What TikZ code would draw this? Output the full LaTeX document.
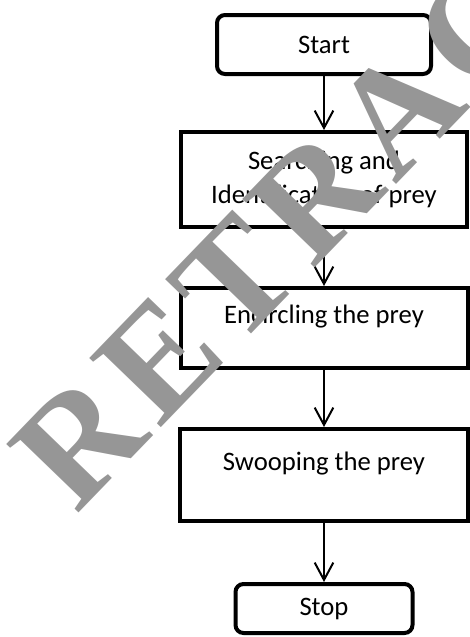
\documentclass[tikz,border=0pt]{standalone}
\usepackage{fontspec}
\setmainfont{Carlito}
\newfontfamily\wmfont[LetterSpace=6]{Liberation Serif}
\usepackage{tikz}
\usetikzlibrary{arrows.meta}
\definecolor{wmgray}{RGB}{150,150,150}
\tikzset{
  fc_node/.style = {align=center, inner sep=0pt, text centered,
    font=\fontsize{20}{26}\selectfont, draw=black, line width=3pt},
  fc_term/.style = {fc_node, rectangle, rounded corners=6pt},% start / stop
  fc_proc/.style = {fc_node, rectangle},% process step
  fc_proc_top/.style = {fc_proc, text height=14pt, text depth=21pt},% text sits high
  wmark/.style = {wmgray, inner sep=0pt,
    font=\wmfont\bfseries\fontsize{114}{114}\selectfont}% watermark
}

\begin{document}
\begin{tikzpicture}[x=0.75pt,y=-0.75pt,>={Straight Barb[length=13pt,width=14pt]},line width=1.5pt]
  	\useasboundingbox (0,0) rectangle (470,637);
  	\clip (0,0) rectangle (470,637);
  	\node [fc_term, minimum width=214*0.75pt, minimum height=59*0.75pt] (start) at (324,44.5) {Start};
  	\node [fc_proc, minimum width=286*0.75pt, minimum height=95*0.75pt] (search) at (324,179.5) {Searching and\\Identification of prey};
  	\node [fc_proc_top, minimum width=287*0.75pt, minimum height=80*0.75pt] (encircle) at (324,328) {Encircling the prey};
  	\node [fc_proc_top, minimum width=288*0.75pt, minimum height=92*0.75pt] (swoop) at (324,475) {Swooping the prey};
  	\node [fc_term, minimum width=177*0.75pt, minimum height=49*0.75pt] (stop) at (324,608.5) {Stop};

	\foreach \from/\to in {start/search,search/encircle,encircle/swoop,swoop/stop}
    	  \draw [->] (\from) -- (\to);

	% watermark over everything
	\node [wmark, rotate=46, anchor=base west] (wm) at (76,516) {RETRACTED};
\end{tikzpicture}
\end{document}
